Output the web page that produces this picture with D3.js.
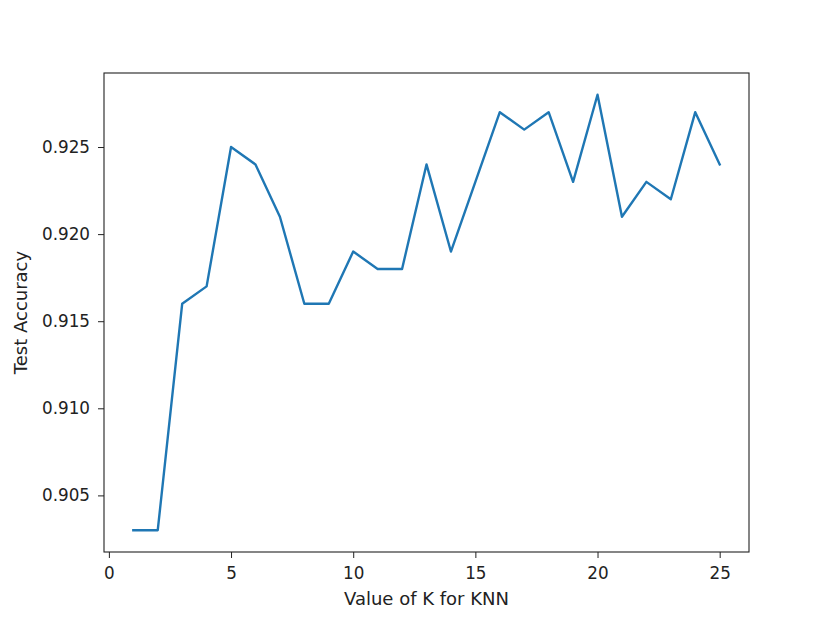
<!DOCTYPE html>
<html lang="en">
<head>
    <meta charset="UTF-8">
    <title>Test Accuracy vs K</title>
    <script src="https://d3js.org/d3.v7.min.js"></script>
    <style>
        body { margin: 0; background: #fff; }
        text { font-family: "DejaVu Sans", sans-serif; fill: #222; }
        .tick text { font-size: 16.8px; }
        .tick line { stroke: #222; }
        .domain { display: none; }
        .frame { fill: none; stroke: #222; stroke-width: 1.1px; }
        .line { fill: none; stroke: #1f77b4; stroke-width: 2.4px; stroke-linejoin: round; stroke-linecap: square; }
        .label { font-size: 18px; }
    </style>
</head>
<body>
<script>
    const kValues = d3.range(1, 26);
    const accuracy = [0.903, 0.903, 0.916, 0.917, 0.925, 0.924, 0.921, 0.916, 0.916, 0.919,
        0.918, 0.918, 0.924, 0.919, 0.923, 0.927, 0.926, 0.927, 0.923, 0.928,
        0.921, 0.923, 0.922, 0.927, 0.924];
    const xTicks = [0, 5, 10, 15, 20, 25];
    const yTicks = [0.905, 0.910, 0.915, 0.920, 0.925];

    const width = 830, height = 622;
    const margin = { top: 73, right: 81, bottom: 70, left: 104 };

    const svg = d3.select('body').append('svg')
        .attr('width', width)
        .attr('height', height);

    // matplotlib style 5% margins
    const xPad = (25 - 1) * 0.05;
    const yMin = d3.min(accuracy), yMax = d3.max(accuracy);
    const yPad = (yMax - yMin) * 0.05;

    const x = d3.scaleLinear()
        .domain([1 - xPad, 25 + xPad])
        .range([margin.left, width - margin.right]);
    const y = d3.scaleLinear()
        .domain([yMin - yPad, yMax + yPad])
        .range([height - margin.bottom, margin.top]);

    svg.append('g')
        .attr('transform', `translate(0,${height - margin.bottom})`)
        .call(d3.axisBottom(x).tickValues(xTicks).tickSize(6).tickPadding(9).tickFormat(d3.format('d')));

    svg.append('g')
        .attr('transform', `translate(${margin.left},0)`)
        .call(d3.axisLeft(y).tickValues(yTicks).tickSize(6).tickPadding(8).tickFormat(d3.format('.3f')));

    const line = d3.line()
        .x((d, i) => x(kValues[i]))
        .y(d => y(d));

    svg.append('path')
        .datum(accuracy)
        .attr('class', 'line')
        .attr('d', line);

    svg.append('rect')
        .attr('class', 'frame')
        .attr('x', margin.left)
        .attr('y', margin.top)
        .attr('width', width - margin.left - margin.right)
        .attr('height', height - margin.top - margin.bottom);

    svg.append('text')
        .attr('class', 'label')
        .attr('x', (margin.left + width - margin.right) / 2)
        .attr('y', 605)
        .attr('text-anchor', 'middle')
        .text('Value of K for KNN');

    svg.append('text')
        .attr('class', 'label')
        .attr('transform', `translate(27,${(margin.top + height - margin.bottom) / 2}) rotate(-90)`)
        .attr('text-anchor', 'middle')
        .text('Test Accuracy');
</script>
</body>
</html>
